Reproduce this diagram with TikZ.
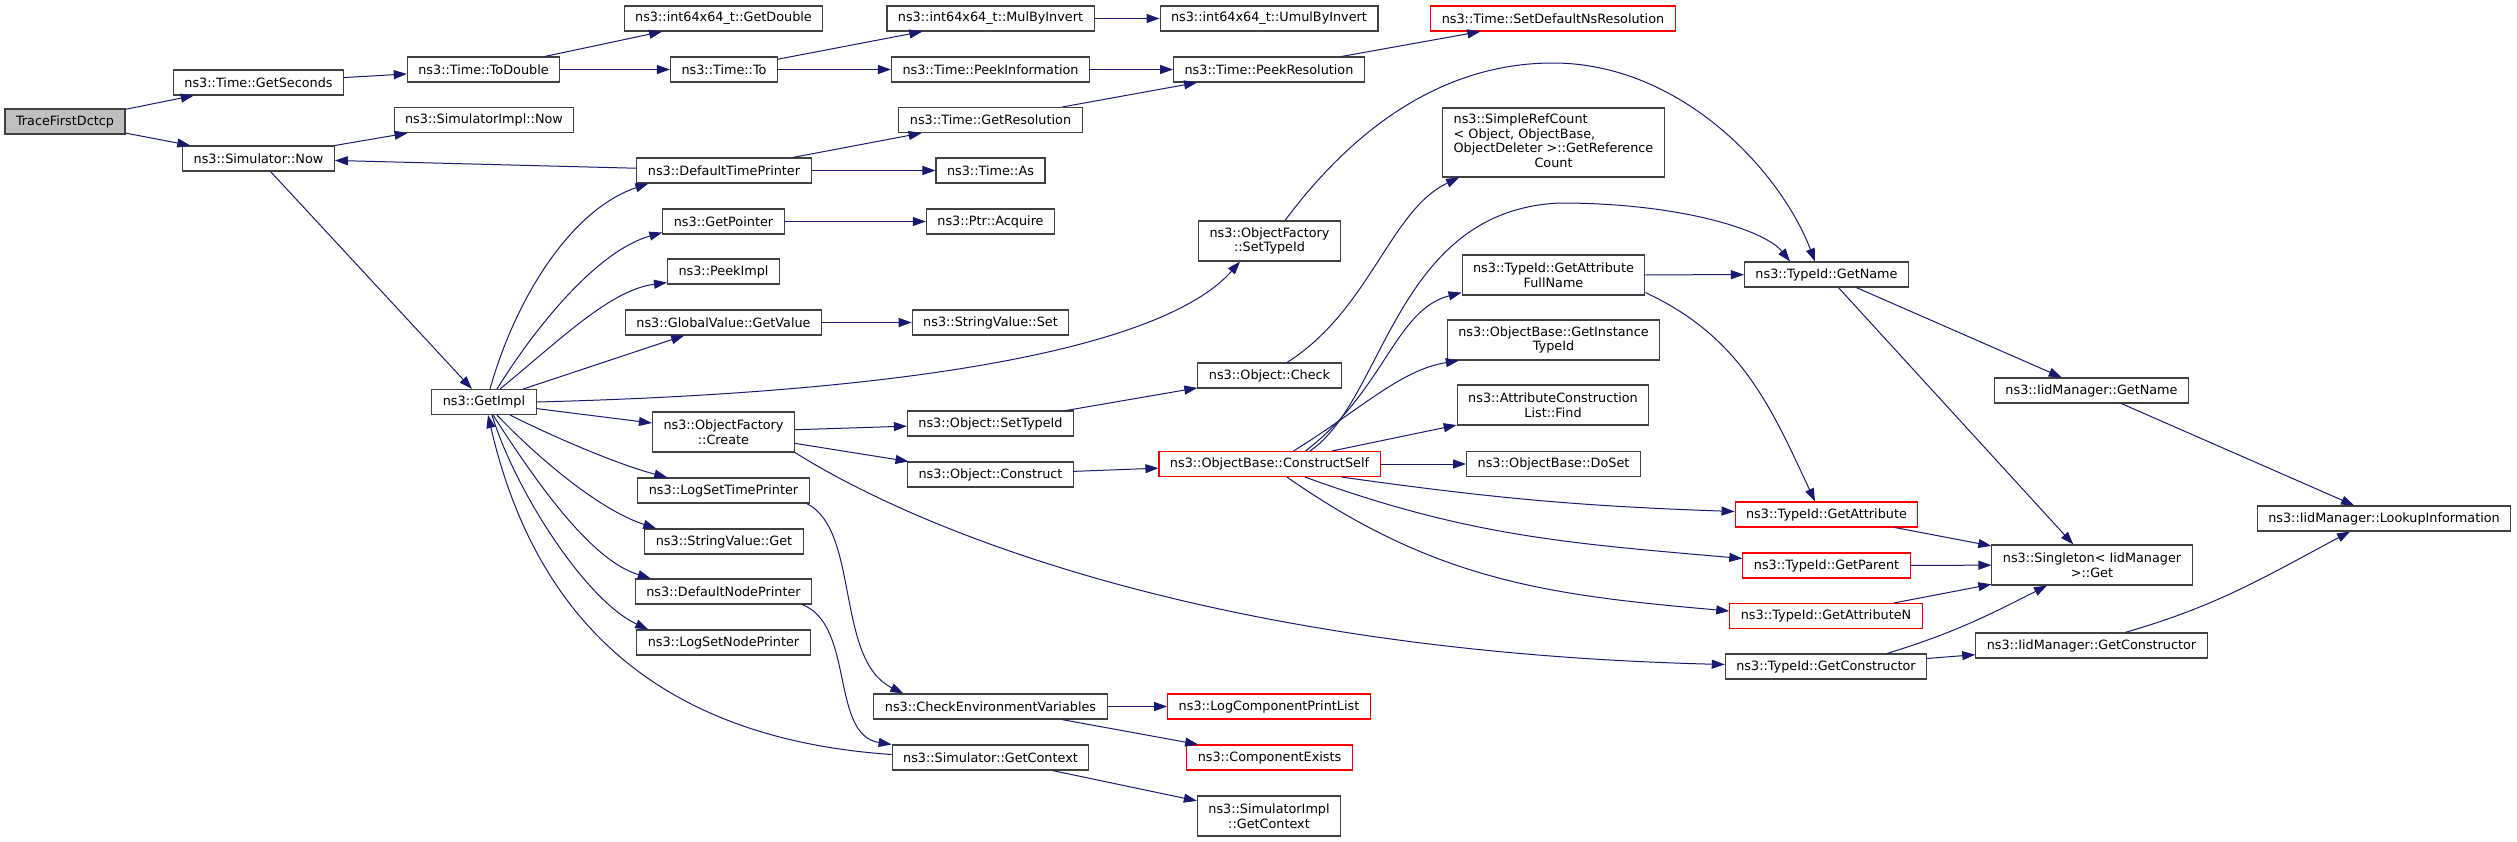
\documentclass[tikz,border=0pt]{standalone}
\usepackage{fontspec}
\setmainfont{DejaVu Sans}[Ligatures=NoCommon]
\usetikzlibrary{arrows.meta}
\definecolor{edgeblue}{HTML}{191970}
\definecolor{boxgray}{HTML}{404040}
\definecolor{rootgray}{HTML}{BFBFBF}
\newcommand{\fs}{\fontsize{12.8}{14.7}\selectfont}

\begin{document}
\begin{tikzpicture}[x=1pt,y=1pt,
   fn/.style={draw=boxgray,line width=1.1pt,fill=white,text=black,font=\fs,
      inner xsep=11pt,inner ysep=4pt,minimum height=25pt,align=center},
   rootfn/.style={fn,fill=rootgray},
   redfn/.style={fn,draw=red},
   twoline/.style={minimum height=40pt},
   call/.style={draw=edgeblue,line width=1pt,-{Triangle[length=13pt,width=9pt]}}]
   \useasboundingbox (0,0) rectangle (2517,-841);

   \node[rootfn] (root) at (65,-121.5) {TraceFirstDctcp};
   \node[fn] (getsec) at (258.5,-82.5) {ns3::Time::GetSeconds};
   \node[fn] (simnow) at (258.5,-158.5) {ns3::Simulator::Now};
   \node[fn] (todouble) at (483.5,-69.5) {ns3::Time::ToDouble};
   \node[fn] (implnow) at (484,-120) {ns3::SimulatorImpl::Now};
   \node[fn] (getimpl) at (484,-402) {ns3::GetImpl};
   \node[fn] (getdouble) at (723.5,-18.5) {ns3::int64x64\_t::GetDouble};
   \node[fn] (timeto) at (724,-69.5) {ns3::Time::To};
   \node[fn] (dtp) at (724,-170.5) {ns3::DefaultTimePrinter};
   \node[fn] (getptr) at (723.5,-221.5) {ns3::GetPointer};
   \node[fn] (peekimpl) at (723.5,-271.5) {ns3::PeekImpl};
   \node[fn] (gvget) at (723.5,-322.5) {ns3::GlobalValue::GetValue};
   \node[fn,twoline] (ofcreate) at (723.5,-432) {ns3::ObjectFactory\\::Create};
   \node[fn] (logsettp) at (723.5,-490.5) {ns3::LogSetTimePrinter};
   \node[fn] (svget) at (724,-541.5) {ns3::StringValue::Get};
   \node[fn] (dnp) at (723.5,-591.5) {ns3::DefaultNodePrinter};
   \node[fn] (logsetnp) at (723.5,-642.5) {ns3::LogSetNodePrinter};
   \node[fn] (mulinv) at (990.5,-18.5) {ns3::int64x64\_t::MulByInvert};
   \node[fn] (peekinfo) at (990.5,-69.5) {ns3::Time::PeekInformation};
   \node[fn] (getres) at (990.5,-120) {ns3::Time::GetResolution};
   \node[fn] (timeas) at (990.5,-170.5) {ns3::Time::As};
   \node[fn] (acquire) at (990.5,-221.5) {ns3::Ptr::Acquire};
   \node[fn] (svset) at (990.5,-322.5) {ns3::StringValue::Set};
   \node[fn] (objsettid) at (990.5,-423.5) {ns3::Object::SetTypeId};
   \node[fn] (objconstr) at (990.5,-474.5) {ns3::Object::Construct};
   \node[fn] (checkenv) at (990.5,-706.5) {ns3::CheckEnvironmentVariables};
   \node[fn] (simctx) at (990.5,-757.5) {ns3::Simulator::GetContext};
   \node[fn] (umulinv) at (1269,-18.5) {ns3::int64x64\_t::UmulByInvert};
   \node[fn] (peekres) at (1269,-69.5) {ns3::Time::PeekResolution};
   \node[fn,twoline] (ofsettid) at (1269.5,-241) {ns3::ObjectFactory\\::SetTypeId};
   \node[fn] (objcheck) at (1269.5,-375.5) {ns3::Object::Check};
   \node[redfn] (cself) at (1269.5,-464) {ns3::ObjectBase::ConstructSelf};
   \node[redfn] (lcpl) at (1269,-706.5) {ns3::LogComponentPrintList};
   \node[redfn] (compexists) at (1269.5,-757.5) {ns3::ComponentExists};
   \node[fn,twoline] (implctx) at (1269,-816) {ns3::SimulatorImpl\\::GetContext};
   \node[redfn] (setdefres) at (1553,-18.5) {ns3::Time::SetDefaultNsResolution};
   \node[fn,minimum height=69pt] (refcount) at (1553.5,-142.5)
      {\begin{tabular}{@{}l@{}}ns3::SimpleRefCount\\< Object, ObjectBase,\\
       \multicolumn{1}{@{}c@{}}{ObjectDeleter >::GetReference}\\
       \multicolumn{1}{@{}c@{}}{Count}\end{tabular}};
   \node[fn,twoline] (attrfull) at (1553.5,-275) {ns3::TypeId::GetAttribute\\FullName};
   \node[fn,twoline] (insttid) at (1553.5,-340) {ns3::ObjectBase::GetInstance\\TypeId};
   \node[fn,twoline] (aclfind) at (1553,-405) {ns3::AttributeConstruction\\List::Find};
   \node[fn] (doset) at (1553.5,-464) {ns3::ObjectBase::DoSet};
   \node[fn] (tidname) at (1826.5,-274.5) {ns3::TypeId::GetName};
   \node[redfn] (tidattr) at (1826.5,-514.5) {ns3::TypeId::GetAttribute};
   \node[redfn] (tidparent) at (1826.5,-565.5) {ns3::TypeId::GetParent};
   \node[redfn] (tidattrn) at (1826,-616) {ns3::TypeId::GetAttributeN};
   \node[fn] (tidctor) at (1826,-666.5) {ns3::TypeId::GetConstructor};
   \node[fn] (iidname) at (2091.5,-390.5) {ns3::IidManager::GetName};
   \node[fn,twoline] (singleton) at (2092,-565) {ns3::Singleton< IidManager\\>::Get};
   \node[fn] (iidctor) at (2091.5,-645.5) {ns3::IidManager::GetConstructor};
   \node[fn] (lookup) at (2384,-518.5) {ns3::IidManager::LookupInformation};

   % straight calls
   \draw[call] (root) -- (getsec);
   \draw[call] (root) -- (simnow);
   \draw[call] (getsec) -- (todouble);
   \draw[call] (todouble) -- (getdouble);
   \draw[call] (todouble) -- (timeto);
   \draw[call] (timeto) -- (mulinv);
   \draw[call] (timeto) -- (peekinfo);
   \draw[call] (mulinv) -- (umulinv);
   \draw[call] (peekinfo) -- (peekres);
   \draw[call] (peekres) -- (setdefres);
   \draw[call] (getres) -- (peekres);
   \draw[call] (simnow) -- (implnow);
   \draw[call] (simnow) -- (getimpl);
   \draw[call] (dtp) -- (simnow);
   \draw[call] (dtp) -- (getres);
   \draw[call] (dtp) -- (timeas);
   \draw[call] (getptr) -- (acquire);
   \draw[call] (gvget) -- (svset);
   \draw[call] (getimpl) -- (gvget);
   \draw[call] (getimpl) -- (ofcreate);
   \draw[call] (ofcreate) -- (objsettid);
   \draw[call] (ofcreate) -- (objconstr);
   \draw[call] (objsettid) -- (objcheck);
   \draw[call] (objconstr) -- (cself);
   \draw[call] (cself) -- (doset);
   \draw[call] (cself) -- (aclfind);
   \draw[call] (attrfull) -- (tidname);
   \draw[call] (tidname) -- (iidname);
   \draw[call] (tidname) -- (singleton);
   \draw[call] (iidname) -- (lookup);
   \draw[call] (tidattr) -- (singleton);
   \draw[call] (tidparent) -- (singleton);
   \draw[call] (tidattrn) -- (singleton);
   \draw[call] (tidctor) -- (iidctor);
   \draw[call] (checkenv) -- (lcpl);
   \draw[call] (checkenv) -- (compexists);
   \draw[call] (simctx) -- (implctx);

   % curved calls
   \draw[call] ([xshift=6pt]getimpl.north) .. controls (515,-300) and (570,-210) .. ([xshift=12pt]dtp.south west);
   \draw[call] ([xshift=13pt]getimpl.north) .. controls (540,-320) and (600,-250) .. ([yshift=2pt]getptr.south west);
   \draw[call] ([xshift=16pt]getimpl.north) .. controls (560,-340) and (610,-290) .. ([yshift=2pt]peekimpl.south west);
   \draw[call] (getimpl.east) .. controls (1000,-390) and (1180,-330) .. ([xshift=-29.5pt]ofsettid.south);
   \draw[call] ([xshift=26pt]getimpl.south) .. controls (560,-440) and (620,-465) .. ([xshift=30pt]logsettp.north west);
   \draw[call] ([xshift=13pt]getimpl.south) .. controls (540,-460) and (600,-510) .. ([xshift=12pt]svget.north west);
   \draw[call] ([xshift=9pt]getimpl.south) .. controls (535,-480) and (590,-560) .. ([xshift=16pt]dnp.north west);
   \draw[call] ([xshift=8pt]getimpl.south) .. controls (515,-490) and (585,-600) .. ([xshift=12pt]logsetnp.north west);
   \draw[call] ([yshift=3pt]simctx.west) .. controls (680,-740) and (540,-640) .. ([xshift=4pt]getimpl.south);
   \draw[call] ([xshift=-3pt]logsettp.south east) .. controls (860,-530) and (835,-660) .. ([xshift=30pt]checkenv.north west);
   \draw[call] ([xshift=-10pt]dnp.south east) .. controls (855,-625) and (830,-735) .. (simctx.north west);
   \draw[call] (ofcreate.south east) .. controls (870,-500) and (1150,-650) .. ([yshift=2pt]tidctor.west);
   \draw[call] ([xshift=15.5pt]ofsettid.north) .. controls (1360,-120) and (1450,-63) .. (1553,-63)
      .. controls (1680,-63) and (1780,-170) .. ([xshift=-11.5pt]tidname.north);
   \draw[call] ([xshift=17.5pt]objcheck.north) .. controls (1370,-310) and (1390,-210) .. ([xshift=17pt]refcount.south west);
   \draw[call] ([xshift=40.5pt]cself.north) .. controls (1385,-400) and (1395,-210) .. (1560,-203)
      .. controls (1680,-203) and (1765,-230) .. ([xshift=-36.5pt]tidname.north);
   \draw[call] ([xshift=36pt]cself.north) .. controls (1385,-390) and (1395,-310) .. ([yshift=3pt]attrfull.south west);
   \draw[call] ([xshift=24pt]cself.north) .. controls (1360,-410) and (1400,-370) .. ([xshift=12pt]insttid.south west);
   \draw[call] ([xshift=-39pt]cself.south east) to[out=-8,in=178] ([yshift=3pt]tidattr.west);
   \draw[call] ([xshift=35.5pt]cself.south) to[out=-20,in=175] ([yshift=7pt]tidparent.west);
   \draw[call] ([xshift=17.5pt]cself.south) to[out=-35,in=175] ([yshift=5pt]tidattrn.west);
   \draw[call] ([yshift=3pt]attrfull.south east) to[out=-25,in=115] ([xshift=-11.5pt]tidattr.north);
   \draw[call] ([xshift=61pt]tidctor.north) to[out=17,in=207] ([xshift=-45pt]singleton.south);
   \draw[call] ([xshift=33.5pt]iidctor.north) to[out=16,in=208] ([xshift=-34pt]lookup.south);
\end{tikzpicture}
\end{document}
